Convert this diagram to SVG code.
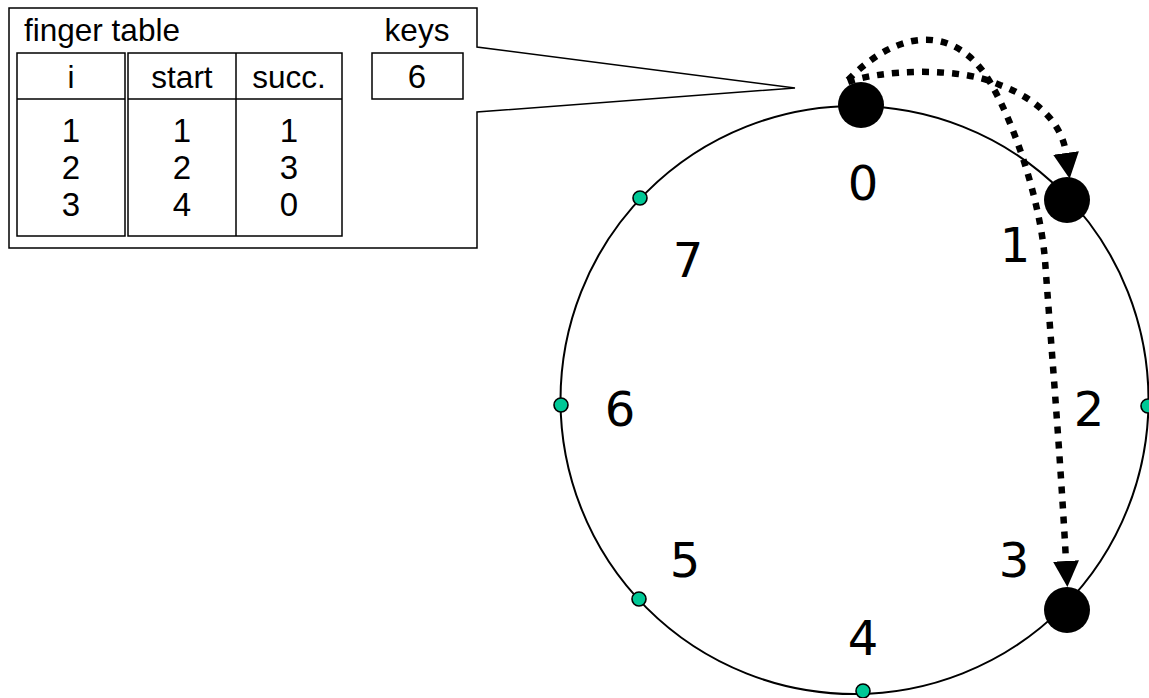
<svg xmlns="http://www.w3.org/2000/svg" width="1149" height="698" viewBox="0 0 1149 698">
  <style>
    .box { fill: none; stroke: #000; stroke-width: 1.5; }
    .tt { font-family: "Liberation Sans", Arial, sans-serif; font-size: 31.5px; fill: #000; text-anchor: middle; }
    .num { font-family: "Liberation Sans", Arial, sans-serif; font-size: 33px; fill: #000; text-anchor: middle; }
    .lbl { font-family: "DejaVu Sans", Verdana, sans-serif; font-size: 48px; fill: #000; text-anchor: middle; }
    .ring { fill: none; stroke: #000; stroke-width: 2; }
    .node { fill: #000; }
    .slot { fill: #00c896; stroke: #000; stroke-width: 1.6; }
    .hop { fill: none; stroke: #000; stroke-width: 6.5; stroke-dasharray: 7 8; }
  </style>
  <defs>
    <marker id="head" markerUnits="userSpaceOnUse" markerWidth="26" markerHeight="26" viewBox="0 0 24 24" refX="0" refY="12" orient="auto">
      <path d="M0,0 L24,12 L0,24 Z" fill="#000"/>
    </marker>
  </defs>

  <!-- finger table callout -->
  <g id="finger-table">
    <path class="box" d="M477 47 L477 8 L9 8 L9 248 L477 248 L477 112 L795 88 Z"/>
    <text class="tt" x="102" y="41">finger table</text>
    <text class="tt" x="417" y="41">keys</text>
    <rect class="box" x="17" y="53" width="108" height="183"/>
    <line class="box" x1="17" y1="99" x2="125" y2="99"/>
    <rect class="box" x="128" y="53" width="214" height="183"/>
    <line class="box" x1="236" y1="53" x2="236" y2="236"/>
    <line class="box" x1="128" y1="99" x2="342" y2="99"/>
    <rect class="box" x="372" y="53" width="91" height="46"/>
    <text class="tt" x="71" y="88">i</text>
    <text class="tt" x="182" y="88">start</text>
    <text class="tt" x="289" y="88">succ.</text>
    <text class="num" x="417" y="88">6</text>
    <text class="num" x="71" y="142">1</text>
    <text class="num" x="71" y="179">2</text>
    <text class="num" x="71" y="216">3</text>
    <text class="num" x="182" y="142">1</text>
    <text class="num" x="182" y="179">2</text>
    <text class="num" x="182" y="216">4</text>
    <text class="num" x="289" y="142">1</text>
    <text class="num" x="289" y="179">3</text>
    <text class="num" x="289" y="216">0</text>
  </g>

  <!-- identifier circle -->
  <g id="ring">
    <circle class="ring" cx="854.5" cy="400" r="294"/>
  </g>

  <!-- empty identifier slots -->
  <g id="slot-7"><circle class="slot" cx="640" cy="198" r="7"/></g>
  <g id="slot-6"><circle class="slot" cx="561" cy="405" r="7"/></g>
  <g id="slot-5"><circle class="slot" cx="639" cy="599" r="7"/></g>
  <g id="slot-4"><circle class="slot" cx="863" cy="691" r="7"/></g>
  <g id="slot-2"><circle class="slot" cx="1148" cy="406" r="7"/></g>

  <!-- hops from node 0 -->
  <g id="connectors">
    <path class="hop" marker-end="url(#head)" d="M848 82 C880 70 960 66 1000 85 C1040 100 1062 125 1066 153"/>
    <path class="hop" marker-end="url(#head)" d="M848 80 C901 26 957 26 990 82 C1015 125 1040 200 1045 260 C1050 330 1060 450 1066 561"/>
  </g>

  <!-- nodes -->
  <g id="node-0"><circle class="node" cx="861" cy="105" r="23"/></g>
  <g id="node-1"><circle class="node" cx="1067" cy="200" r="23"/></g>
  <g id="node-3"><circle class="node" cx="1067" cy="610" r="23"/></g>

  <!-- identifier labels -->
  <g id="labels">
    <text class="lbl" x="863" y="200">0</text>
    <text class="lbl" x="1015" y="262">1</text>
    <text class="lbl" x="1089" y="426">2</text>
    <text class="lbl" x="1014" y="577">3</text>
    <text class="lbl" x="863" y="655">4</text>
    <text class="lbl" x="685" y="577">5</text>
    <text class="lbl" x="620" y="426">6</text>
    <text class="lbl" x="688" y="277">7</text>
  </g>
</svg>
